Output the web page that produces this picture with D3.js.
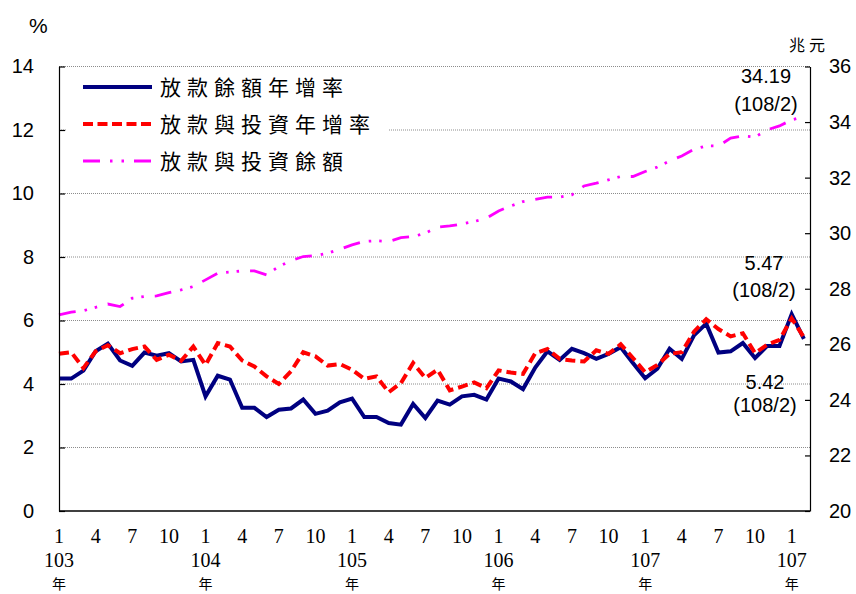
<!DOCTYPE html>
<html>
<head>
<meta charset="utf-8">
<script src="https://cdn.jsdelivr.net/npm/d3@7/dist/d3.min.js"></script>
<style>
  html, body { margin: 0; padding: 0; background: #fff; }
  svg { display: block; }
</style>
</head>
<body>
<svg id="chart" width="856" height="594"></svg>
<script>
// ---- data ----
const categories = [
  "103/1","103/2","103/3","103/4","103/5","103/6","103/7","103/8","103/9","103/10","103/11","103/12",
  "104/1","104/2","104/3","104/4","104/5","104/6","104/7","104/8","104/9","104/10","104/11","104/12",
  "105/1","105/2","105/3","105/4","105/5","105/6","105/7","105/8","105/9","105/10","105/11","105/12",
  "106/1","106/2","106/3","106/4","106/5","106/6","106/7","106/8","106/9","106/10","106/11","106/12",
  "107/1","107/2","107/3","107/4","107/5","107/6","107/7","107/8","107/9","107/10","107/11","107/12",
  "108/1","108/2"
];
// 放款餘額年增率 (%)
const loanGrowth = [
  4.17,4.17,4.42,5.03,5.27,4.74,4.57,4.99,4.89,4.97,4.71,4.76,
  3.61,4.26,4.14,3.25,3.25,2.96,3.19,3.23,3.51,3.06,3.16,3.42,
  3.54,2.96,2.96,2.77,2.72,3.37,2.93,3.48,3.35,3.61,3.66,3.51,
  4.17,4.08,3.84,4.52,5.03,4.76,5.11,4.97,4.79,4.95,5.16,4.66,
  4.18,4.48,5.11,4.79,5.53,5.90,4.99,5.03,5.29,4.82,5.20,5.20,
  6.20,5.42
];
// 放款與投資年增率 (%)
const loanInvGrowth = [
  4.95,5.00,4.50,5.03,5.22,4.97,5.10,5.18,4.76,4.92,4.73,5.18,
  4.60,5.29,5.18,4.74,4.55,4.24,4.00,4.40,5.00,4.87,4.58,4.63,
  4.45,4.16,4.24,3.74,4.03,4.66,4.19,4.45,3.80,3.92,4.05,3.87,
  4.43,4.36,4.32,4.97,5.10,4.79,4.74,4.71,5.06,4.95,5.25,4.82,
  4.37,4.60,4.95,5.00,5.65,6.04,5.73,5.50,5.60,4.97,5.24,5.39,
  6.07,5.47
];
// 放款與投資餘額 (兆元)
const loanInvBalance = [
  27.06,27.16,27.21,27.33,27.45,27.36,27.66,27.72,27.74,27.86,27.96,28.08,
  28.32,28.56,28.60,28.64,28.64,28.50,28.80,29.01,29.16,29.19,29.28,29.42,
  29.58,29.70,29.73,29.70,29.84,29.88,30.00,30.22,30.26,30.33,30.42,30.54,
  30.80,30.98,31.14,31.22,31.30,31.30,31.38,31.70,31.80,31.92,32.04,32.04,
  32.22,32.38,32.60,32.78,33.02,33.14,33.14,33.42,33.50,33.46,33.72,33.86,
  34.08,34.19
];
const leftTicks = [0,2,4,6,8,10,12,14];
const rightTicks = [20,22,24,26,28,30,32,34,36];
const monthTickIndex = [0,3,6,9,12,15,18,21,24,27,30,33,36,39,42,45,48,51,54,57,60];
const monthTickLabels = ["1","4","7","10","1","4","7","10","1","4","7","10","1","4","7","10","1","4","7","10","1"];
const yearTickIndex = [0,12,24,36,48,60];
const yearTickLabels = ["103","104","105","106","107","107"];
const seriesNames = ["放款餘額年增率","放款與投資年增率","放款與投資餘額"];

// ---- layout ----
const svg = d3.select("#chart");
const L = 59, R = 810, T = 66.5, B = 511;
const sansFont = "Arial, 'Liberation Sans', Helvetica, sans-serif";
const serifFont = "'Times New Roman', 'Liberation Serif', serif";
const cjkFont = "'Noto Sans CJK TC', 'Noto Sans CJK SC', sans-serif";

const x = d3.scaleLinear().domain([0, 61.5]).range([L, R]);
const yL = d3.scaleLinear().domain([0, 14]).range([B, T]);
const yR = d3.scaleLinear().domain([20, 36]).range([B, T]);

// gridlines
svg.append("g").selectAll("line").data(leftTicks.filter(d => d > 0)).join("line")
  .attr("x1", L).attr("x2", R)
  .attr("y1", d => yL(d)).attr("y2", d => yL(d))
  .attr("stroke", "#8c8c8c").attr("stroke-width", 1).attr("stroke-dasharray", "1,1");

// legend background
svg.append("rect").attr("x", 66).attr("y", 72).attr("width", 322).attr("height", 110).attr("fill", "#fff");

// series
const lineL = d3.line().x((d, i) => x(i)).y(d => yL(d));
const lineR = d3.line().x((d, i) => x(i)).y(d => yR(d));

svg.append("path").datum(loanInvBalance).attr("d", lineR)
  .attr("fill", "none").attr("stroke", "#ff00ff").attr("stroke-width", 2.8)
  .attr("stroke-dasharray", "17,9,2.5,8,2.5,11");
svg.append("path").datum(loanGrowth).attr("d", lineL)
  .attr("fill", "none").attr("stroke", "#000080").attr("stroke-width", 4)
  .attr("stroke-linejoin", "miter");
svg.append("path").datum(loanInvGrowth).attr("d", lineL)
  .attr("fill", "none").attr("stroke", "#ff0000").attr("stroke-width", 4)
  .attr("stroke-dasharray", "10,5");

// axes
const axL = svg.append("g").attr("transform", `translate(${L},0)`)
  .call(d3.axisLeft(yL).tickValues(leftTicks).tickSizeInner(-6).tickSizeOuter(0).tickPadding(25));
const axR = svg.append("g").attr("transform", `translate(${R},0)`)
  .call(d3.axisRight(yR).tickValues(rightTicks).tickSizeInner(-5).tickSizeOuter(0).tickPadding(19));
[axL, axR].forEach(a => {
  a.select(".domain").attr("stroke", "#000").attr("stroke-width", 1.2);
  a.selectAll(".tick line").attr("stroke", "#000").attr("stroke-width", 1.2);
  a.selectAll(".tick text").attr("font-family", sansFont).attr("font-size", 20).attr("fill", "#000");
});
svg.append("line").attr("x1", L).attr("x2", R).attr("y1", B).attr("y2", B)
  .attr("stroke", "#000").attr("stroke-width", 1.5);

// x labels
svg.append("g").selectAll("text").data(monthTickIndex).join("text")
  .attr("x", d => x(d)).attr("y", 543)
  .attr("text-anchor", "middle").attr("font-family", serifFont).attr("font-size", 20)
  .text((d, i) => monthTickLabels[i]);
svg.append("g").selectAll("text").data(yearTickIndex).join("text")
  .attr("x", d => x(d)).attr("y", 567)
  .attr("text-anchor", "middle").attr("font-family", serifFont).attr("font-size", 20)
  .text((d, i) => yearTickLabels[i]);
svg.append("g").selectAll("text").data(yearTickIndex).join("text")
  .attr("x", d => x(d)).attr("y", 589)
  .attr("text-anchor", "middle").attr("font-family", cjkFont).attr("font-size", 14)
  .text("年");

// unit labels
svg.append("text").attr("x", 29).attr("y", 33).attr("font-family", sansFont).attr("font-size", 21).text("%");
svg.append("text").attr("x", 789).attr("y", 51).attr("font-family", cjkFont).attr("font-size", 16)
  .attr("letter-spacing", 4).text("兆元");

// legend
const legendY = [87, 124, 161];
const legendStyles = [
  {stroke: "#000080", w: 4, dash: null},
  {stroke: "#ff0000", w: 4, dash: "10,4.5"},
  {stroke: "#ff00ff", w: 2.8, dash: "17,10,2.5,9,2.5,10"}
];
seriesNames.forEach((name, i) => {
  const s = legendStyles[i];
  const ln = svg.append("line").attr("x1", 83).attr("x2", 152)
    .attr("y1", legendY[i]).attr("y2", legendY[i])
    .attr("stroke", s.stroke).attr("stroke-width", s.w);
  if (s.dash) ln.attr("stroke-dasharray", s.dash);
  svg.append("text").attr("x", 160).attr("y", legendY[i]).attr("dy", "0.36em")
    .attr("font-family", cjkFont).attr("font-size", 21).attr("letter-spacing", 6)
    .attr("fill", "#000").text(name);
});

// annotations
const last = categories.length - 1;
function annot(value, cx, y1, y2) {
  svg.append("text").attr("x", cx).attr("y", y1).attr("text-anchor", "middle")
    .attr("font-family", sansFont).attr("font-size", 20).text(value.toFixed(2));
  svg.append("text").attr("x", cx).attr("y", y2).attr("text-anchor", "middle")
    .attr("font-family", sansFont).attr("font-size", 20).text("(" + categories[last] + ")");
}
annot(loanInvBalance[last], 766, 83, 111);
annot(loanInvGrowth[last], 764, 270, 297);
annot(loanGrowth[last], 765, 389, 412);
</script>
</body>
</html>
